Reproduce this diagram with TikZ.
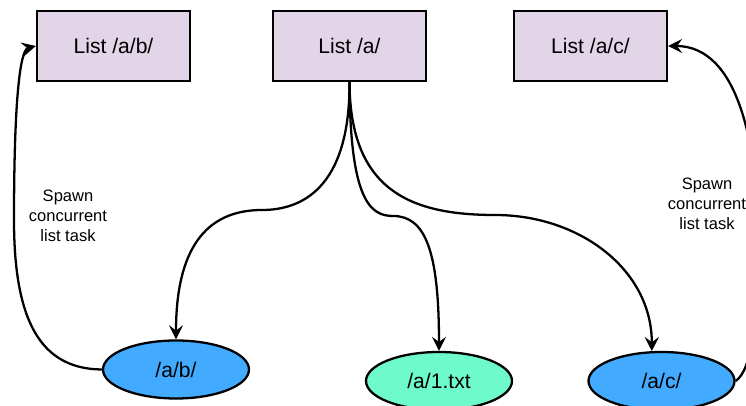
\documentclass[tikz,border=0pt]{standalone}
\usepackage{fontspec}
\setmainfont{Liberation Sans}
\usetikzlibrary{arrows.meta,shapes.geometric}

\begin{document}
\begin{tikzpicture}[listbox/.style={rectangle,draw,line width=1.3pt,fill=lilac,minimum width=3.06cm,minimum height=1.4cm,font=\fontsize{12}{14}\selectfont},
  entry/.style={ellipse,draw,line width=1.3pt,minimum width=2.92cm,minimum height=1.16cm,inner sep=0pt,font=\fontsize{12}{14}\selectfont},
  link/.style={line width=1.3pt,-{Stealth[length=8pt,width=8pt,inset=3pt]}},
  note/.style={align=center,font=\fontsize{9.4}{11.4}\selectfont}]
\definecolor{lilac}{HTML}{E1D5E7}
\definecolor{skyblue}{HTML}{42AAFF}
\definecolor{mint}{HTML}{6FFACB}
\useasboundingbox (0,0) rectangle (14.92,8.12);
% the three list tasks
\node [listbox] (listab) at (2.27,7.2) {List /a/b/};
\node [listbox] (lista) at (6.99,7.2) {List /a/};
\node [listbox] (listac) at (11.81,7.2) {List /a/c/};
% entries found in /a/
\node [entry,fill=skyblue] (dirab) at (3.52,0.73) {/a/b/};
\node [entry,fill=mint] (file) at (8.78,0.5) {/a/1.txt};
\node [entry,fill=skyblue] (dirac) at (13.23,0.5) {/a/c/};
\node [note] (spawnl) at (1.36,3.8) {Spawn\\concurrent\\list task};
\node [note] (spawnr) at (14.14,4.04) {Spawn\\concurrent\\list task};
% listing /a/
\draw [link] (lista.south) .. controls (7,4.32) and (6,3.92) .. (5.24,3.92)
  .. controls (4.1,3.92) and (3.52,3.12) .. (dirab.north);
\draw [link] (lista.south) .. controls (7,4.12) and (7.4,3.8) .. (7.86,3.8)
  .. controls (8.5,3.8) and (8.78,3.12) .. (file.north);
\draw [link] (lista.south) .. controls (7,4.32) and (8.2,3.82) .. (9.9,3.82)
  .. controls (11.6,3.82) and (13.04,2.72) .. (dirac.108);
% spawning
\draw [link] (dirab.west) .. controls (0.8,0.74) and (0.28,1.72) .. (0.28,3.72)
  .. controls (0.28,6.12) and (0.4,7.12) .. (listab.west);
\draw [link] (dirac.east) .. controls (15.04,0.72) and (15.16,1.72) .. (15.16,3.32)
  .. controls (15.16,5.12) and (14.8,7.2) .. (listac.east);
\end{tikzpicture}
\end{document}
